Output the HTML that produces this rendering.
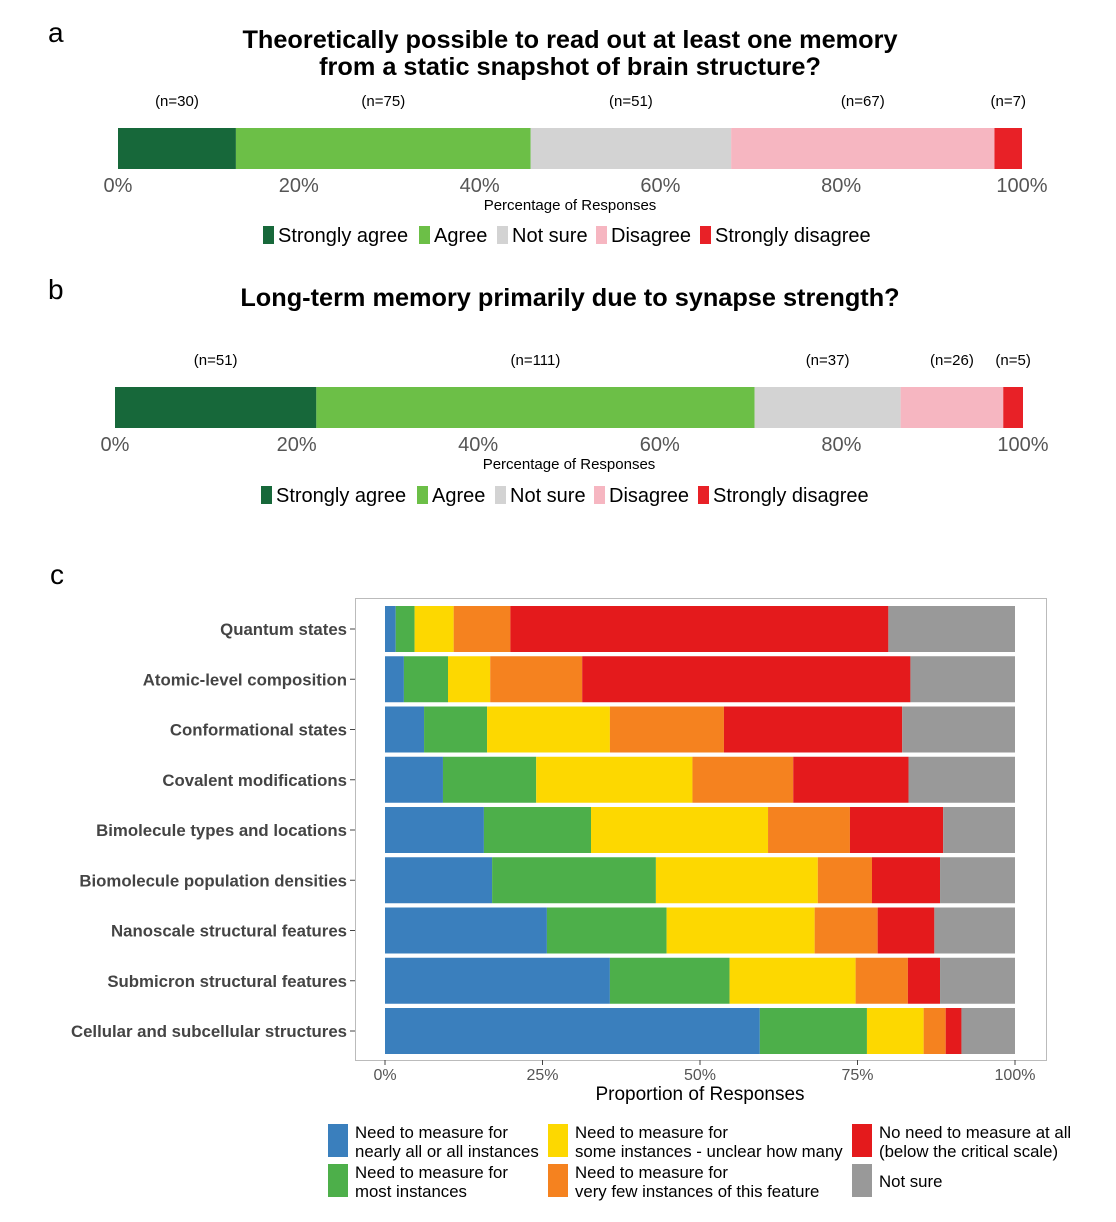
<!DOCTYPE html>
<html><head><meta charset="utf-8"><style>
body{margin:0;background:#fff;}
svg{display:block;font-family:"Liberation Sans",sans-serif;}
</style></head><body>
<svg id="c" width="1116" height="1222"></svg>
<script>
const likertCats=["Strongly agree","Agree","Not sure","Disagree","Strongly disagree"];
const likertColors=["#17683a","#6cbf47","#d3d3d3","#f6b6c1","#e82127"];
const countsA=[30,75,51,67,7];
const countsB=[51,111,37,26,5];
const pctTicks=["0%","20%","40%","60%","80%","100%"];
const rowLabels=["Quantum states","Atomic-level composition","Conformational states","Covalent modifications","Bimolecule types and locations","Biomolecule population densities","Nanoscale structural features","Submicron structural features","Cellular and subcellular structures"];
const measBlue=[1.7,3.0,6.2,9.2,15.7,17.0,25.7,35.7,59.5];
const measGreen=[3.0,7.0,10.0,14.8,17.0,26.0,19.0,19.0,17.0];
const measYellow=[6.2,6.7,19.5,24.8,28.1,25.7,23.5,20.0,9.0];
const measOrange=[9.0,14.6,18.1,16.0,13.0,8.6,10.0,8.3,3.5];
const measRed=[60.0,52.1,28.3,18.3,14.8,10.8,9.0,5.1,2.5];
const measGrey=[20.1,16.6,17.9,16.9,11.4,11.9,12.8,11.9,8.5];
const propTicks=["0%","25%","50%","75%","100%"];
const measColors=["#3a7fbd","#4daf4a","#fdd800","#f5821f","#e41a1c","#999999"];

const svg=document.getElementById('c');
const NS="http://www.w3.org/2000/svg";
function el(tag,attrs,txt){const e=document.createElementNS(NS,tag);for(const k in attrs)e.setAttribute(k,attrs[k]);if(txt!==undefined)e.textContent=txt;svg.appendChild(e);return e;}

function likertPanel(letter,letterY,titles,titleY,counts,x0,x1,barY,barH,nY,tickY,axY,legY,legX){
  let t=el('text',{x:48,y:letterY,'font-size':28});t.textContent=letter;
  
  
  titles.forEach((s,i)=>{const tt=el('text',{x:570,y:titleY+i*27,'font-size':25.3,'font-weight':'bold','text-anchor':'middle'},s);
    
    });
  const tot=counts.reduce((a,b)=>a+b,0);
  const sx=v=>x0+(x1-x0)*v/100;
  let acc=0;
  counts.forEach((c,i)=>{const p=c/tot*100;const xa=sx(acc),xb=sx(acc+p);
    const r=el('rect',{x:xa,y:barY,width:xb-xa,height:barH,fill:likertColors[i]});
    
    
    const n=el('text',{x:(xa+xb)/2,y:nY,'font-size':15,'text-anchor':'middle'},'(n='+c+')');
    
    
    acc+=p;});
  pctTicks.forEach((s,i)=>{const tk=el('text',{x:sx(i*20),y:tickY,'font-size':20,fill:'#555','text-anchor':'middle'},s);
    
    });
  const at=el('text',{x:(x0+x1)/2,y:axY,'font-size':15,'text-anchor':'middle'},'Percentage of Responses');
  
  
  const offs=[0,156,234,333,437];
  likertCats.forEach((s,i)=>{const lx=legX+offs[i];
    const r=el('rect',{x:lx,y:legY-17,width:11,height:18,fill:likertColors[i]});
    
    
    const tx=el('text',{x:lx+15,y:legY-1,'font-size':20},s);
    
    });
}
likertPanel('a',42,["Theoretically possible to read out at least one memory","from a static snapshot of brain structure?"],48,countsA,118,1022,128,41,106,192,210,243,263);
likertPanel('b',299,["Long-term memory primarily due to synapse strength?"],306,countsB,115,1023,387,41,365,451,469,503,261);

let lc=el('text',{x:50,y:584,'font-size':28},'c');


const fr=el('rect',{x:355.5,y:598.5,width:691,height:462,fill:'none',stroke:'#bbb'});


const cx0=385,cx1=1015,sxc=v=>cx0+(cx1-cx0)*v/100;
const series=[measBlue,measGreen,measYellow,measOrange,measRed,measGrey];
rowLabels.forEach((lab,r)=>{
  const cy=629+r*50.25;let acc=0;
  series.forEach((arr,k)=>{const xa=sxc(acc),xb=sxc(Math.min(100,acc+arr[r]));
    const b=el('rect',{x:xa,y:cy-23,width:Math.max(0,xb-xa),height:46,fill:measColors[k]});
    
    
    acc+=arr[r];});
  const t=el('text',{x:347,y:cy+6,'font-size':16.8,'font-weight':'bold',fill:'#444','text-anchor':'end'},lab);
  
  
  el('line',{x1:350,x2:355,y1:cy,y2:cy,stroke:'#444'});
});
propTicks.forEach((s,i)=>{const x=sxc(i*25);
  el('line',{x1:x,x2:x,y1:1060,y2:1065,stroke:'#444'});
  const t=el('text',{x:x,y:1080,'font-size':16,fill:'#555','text-anchor':'middle'},s);
  
  });
const ct=el('text',{x:700,y:1100,'font-size':19,'text-anchor':'middle'},'Proportion of Responses');


const legItems=[
 [328,1124,0,["Need to measure for","nearly all or all instances"]],
 [328,1164,1,["Need to measure for","most instances"]],
 [548,1124,2,["Need to measure for","some instances - unclear how many"]],
 [548,1164,3,["Need to measure for","very few instances of this feature"]],
 [852,1124,4,["No need to measure at all","(below the critical scale)"]],
 [852,1164,5,["Not sure"]]];
legItems.forEach(([x,y,k,lines])=>{
  const r=el('rect',{x:x,y:y,width:20,height:33,fill:measColors[k]});
  
  
  lines.forEach((s,j)=>{const ty=lines.length===1?y+23:y+14+j*19;
    const t=el('text',{x:x+27,y:ty,'font-size':16.8},s);
    
    });
});
</script>
</body></html>
